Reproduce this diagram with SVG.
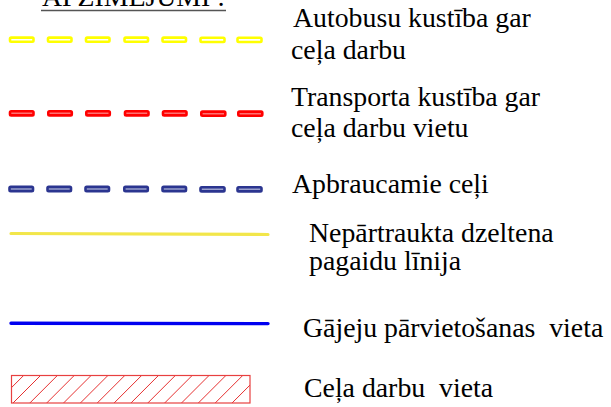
<svg xmlns="http://www.w3.org/2000/svg" width="611" height="407" viewBox="0 0 611 407">
<style>
text{font-family:"Liberation Serif","Times New Roman",serif;font-size:27.8px;fill:#000}
.dy{fill:#ffffff;stroke:#ffff00;stroke-width:2.6}
.dr{fill:#ff7070;stroke:#ff0000;stroke-width:2.6}
.db{fill:#9aa0cc;stroke:#2b3590;stroke-width:2.6}
.hatch{stroke:#e53030;stroke-width:1}
</style>
<defs>
<clipPath id="hc"><rect x="11.5" y="375.5" width="238.5" height="27.5"/></clipPath>
</defs>
<g id="title">
<text x="42" y="6">APZĪMĒJUMI :</text>
<line x1="41" y1="10.5" x2="226" y2="10.5" stroke="#555" stroke-width="1.5"/>
</g>
<g id="bus">
<rect class="dy" x="10" y="37.6" width="23.5" height="4.2" rx="1.2"/>
<rect class="dy" x="48" y="37.6" width="23.5" height="4.2" rx="1.2"/>
<rect class="dy" x="86" y="37.6" width="23.5" height="4.2" rx="1.2"/>
<rect class="dy" x="124.5" y="37.6" width="23.5" height="4.2" rx="1.2"/>
<rect class="dy" x="162.5" y="37.6" width="23.5" height="4.2" rx="1.2"/>
<rect class="dy" x="200.5" y="37.8" width="24" height="4.2" rx="1.2"/>
<rect class="dy" x="237.5" y="37.8" width="24" height="4.2" rx="1.2"/>
<text x="293" y="27">Autobusu kustība gar</text>
<text x="291" y="59">ceļa darbu</text>
</g>
<g id="transport">
<rect class="dr" x="10" y="111.2" width="23.5" height="4.2" rx="1.2"/>
<rect class="dr" x="48.3" y="111.2" width="23.5" height="4.2" rx="1.2"/>
<rect class="dr" x="86.3" y="111.2" width="23.5" height="4.2" rx="1.2"/>
<rect class="dr" x="125" y="111.2" width="23.5" height="4.2" rx="1.2"/>
<rect class="dr" x="163" y="111.2" width="23.5" height="4.2" rx="1.2"/>
<rect class="dr" x="201.3" y="111.6" width="24" height="4.2" rx="1.2"/>
<rect class="dr" x="238.3" y="111.6" width="24" height="4.2" rx="1.2"/>
<text x="291" y="106">Transporta kustība gar</text>
<text x="291" y="137">ceļa darbu vietu</text>
</g>
<g id="access">
<rect class="db" x="9.5" y="186.9" width="23.5" height="4.2" rx="1.2"/>
<rect class="db" x="47.5" y="186.9" width="23.5" height="4.2" rx="1.2"/>
<rect class="db" x="85.5" y="186.9" width="23.5" height="4.2" rx="1.2"/>
<rect class="db" x="124.3" y="186.9" width="23.5" height="4.2" rx="1.2"/>
<rect class="db" x="162.5" y="186.9" width="23.5" height="4.2" rx="1.2"/>
<rect class="db" x="200.5" y="187.2" width="24" height="4.2" rx="1.2"/>
<rect class="db" x="237.5" y="187.2" width="24" height="4.2" rx="1.2"/>
<text x="292" y="193">Apbraucamie ceļi</text>
</g>
<g id="yellow-line">
<line x1="11" y1="233.5" x2="268" y2="234.5" stroke="#f2e64a" stroke-width="3.2" stroke-linecap="round"/>
<text x="309" y="242">Nepārtraukta dzeltena</text>
<text x="309" y="270">pagaidu līnija</text>
</g>
<g id="pedestrian">
<line x1="11" y1="323.2" x2="268" y2="323.6" stroke="#0000f0" stroke-width="3.4" stroke-linecap="round"/>
<text x="303" y="337" xml:space="preserve">Gājeju pārvietošanas  vieta</text>
</g>
<g id="worksite">
<g clip-path="url(#hc)" class="hatch">
<line x1="-3.9" y1="403" x2="24.1" y2="375"/>
<line x1="13" y1="403" x2="41" y2="375"/>
<line x1="29.85" y1="403" x2="57.85" y2="375"/>
<line x1="46.7" y1="403" x2="74.7" y2="375"/>
<line x1="63.55" y1="403" x2="91.55" y2="375"/>
<line x1="80.4" y1="403" x2="108.4" y2="375"/>
<line x1="97.25" y1="403" x2="125.25" y2="375"/>
<line x1="114.1" y1="403" x2="142.1" y2="375"/>
<line x1="130.95" y1="403" x2="158.95" y2="375"/>
<line x1="147.8" y1="403" x2="175.8" y2="375"/>
<line x1="164.65" y1="403" x2="192.65" y2="375"/>
<line x1="181.5" y1="403" x2="209.5" y2="375"/>
<line x1="198.35" y1="403" x2="226.35" y2="375"/>
<line x1="215.2" y1="403" x2="243.2" y2="375"/>
<line x1="232.05" y1="403" x2="260.05" y2="375"/>
</g>
<rect x="11.5" y="375.5" width="238.5" height="27.5" fill="none" stroke="#e84040" stroke-width="1.2"/>
<text x="304" y="397" xml:space="preserve">Ceļa darbu  vieta</text>
</g>
</svg>
